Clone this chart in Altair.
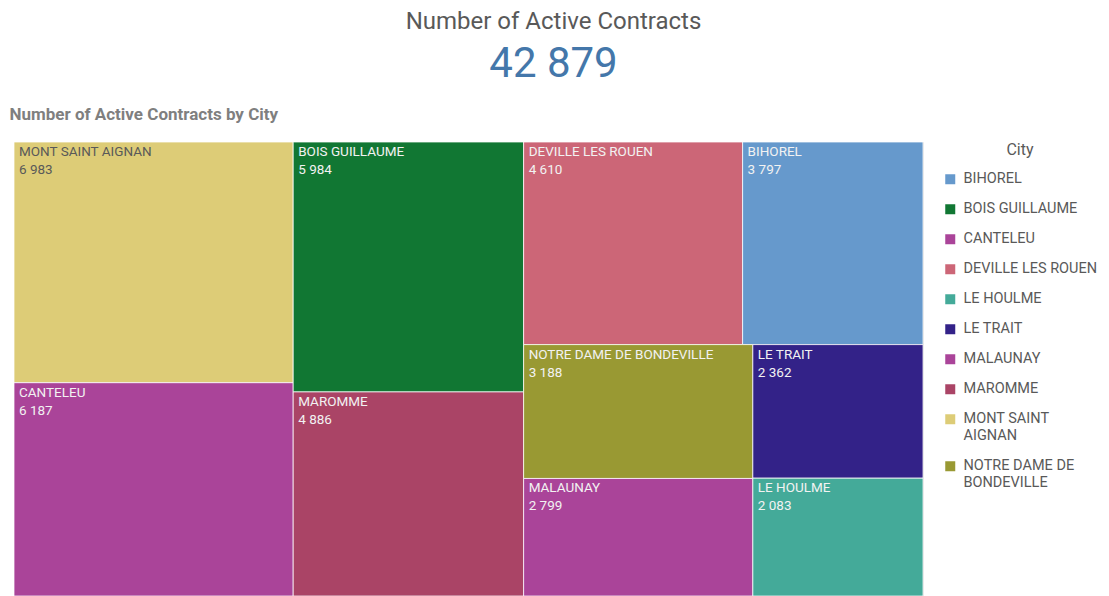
import altair as alt
import pandas as pd

# ---- data ----
cities = ["MONT SAINT AIGNAN", "CANTELEU", "BOIS GUILLAUME", "MAROMME",
          "DEVILLE LES ROUEN", "BIHOREL", "NOTRE DAME DE BONDEVILLE",
          "MALAUNAY", "LE TRAIT", "LE HOULME"]
contracts = [6983, 6187, 5984, 4886, 4610, 3797, 3188, 2799, 2362, 2083]

legend_order = sorted(cities)
legend_colors = ["#6699cc", "#117733", "#aa4499", "#cc6677", "#44aa99",
                 "#332288", "#aa4499", "#aa4466", "#ddcc77", "#999933"]
legend_wrap = {"MONT SAINT AIGNAN": ["MONT SAINT", "AIGNAN"],
               "NOTRE DAME DE BONDEVILLE": ["NOTRE DAME DE", "BONDEVILLE"]}
light_cells = ["MONT SAINT AIGNAN"]

FONT = "Roboto"

# ---- squarified treemap layout (computed from the values) ----
W, H = 909.0, 456.0
total = sum(contracts)
order = sorted(range(len(cities)), key=lambda k: -contracts[k])
areas = [contracts[k] / total * W * H for k in order]


def worst(row, side):
    s = sum(row)
    t = s / side
    return max(max(t / (r / t), (r / t) / t) for r in row)


boxes = []
x0, y0, w, h = 0.0, 0.0, W, H
i, n = 0, len(areas)
while i < n:
    side = min(w, h)
    row = [areas[i]]
    j = i + 1
    while j < n and worst(row + [areas[j]], side) <= worst(row, side):
        row.append(areas[j])
        j += 1
    t = sum(row) / side
    if w >= h:
        yy = y0
        for a in row:
            l = a / t
            boxes.append((x0, yy, x0 + t, yy + l))
            yy += l
        x0 += t
        w -= t
    else:
        xx = x0
        for a in row:
            l = a / t
            boxes.append((xx, y0, xx + l, y0 + t))
            xx += l
        y0 += t
        h -= t
    i = j

df = pd.DataFrame({
    "city": [cities[k] for k in order],
    "contracts": [contracts[k] for k in order],
    "x0": [b[0] for b in boxes],
    "y0": [b[1] for b in boxes],
    "x1": [b[2] for b in boxes],
    "y1": [b[3] for b in boxes],
})
df["value_label"] = df["contracts"].map(lambda v: f"{v:,}".replace(",", " "))

xs = alt.Scale(domain=[0, W], nice=False, zero=False)
ys = alt.Scale(domain=[0, H], nice=False, zero=False, reverse=True)

label_expr = " : ".join(
    [f"datum.label == '{k}' ? {v!r}" for k, v in legend_wrap.items()]
) + " : datum.label"

base = alt.Chart(df)

cells = base.mark_rect(stroke="white", strokeWidth=1, strokeOpacity=0.75).encode(
    x=alt.X("x0:Q", scale=xs, axis=None),
    x2="x1:Q",
    y=alt.Y("y0:Q", scale=ys, axis=None),
    y2="y1:Q",
    color=alt.Color(
        "city:N",
        scale=alt.Scale(domain=legend_order, range=legend_colors),
        legend=alt.Legend(
            title="City", orient="right", offset=18,
            titleFontSize=16, titleFontWeight="normal", titleColor="#595959",
            titleAnchor="middle", titlePadding=14, titleFont=FONT,
            labelFontSize=14.5, labelColor="#595959", labelFont=FONT,
            labelOffset=6, labelLimit=200, labelExpr=label_expr,
            symbolType="square", symbolSize=100, symbolStrokeWidth=0,
            symbolOpacity=1, rowPadding=15,
        ),
    ),
    tooltip=["city:N", "contracts:Q"],
)

txt_color = alt.condition(
    alt.FieldOneOfPredicate(field="city", oneOf=light_cells),
    alt.value("#595959"), alt.value("#f2f2f2"))

names = base.mark_text(align="left", baseline="top", dx=5, dy=3,
                       fontSize=13.5, font=FONT).encode(
    x=alt.X("x0:Q", scale=xs), y=alt.Y("y0:Q", scale=ys),
    text="city:N", color=txt_color)

values = base.mark_text(align="left", baseline="top", dx=5, dy=21,
                        fontSize=13.5, font=FONT).encode(
    x=alt.X("x0:Q", scale=xs), y=alt.Y("y0:Q", scale=ys),
    text="value_label:N", color=txt_color)

treemap = alt.layer(cells, names, values).properties(
    width=909, height=454,
    title=alt.TitleParams(
        "Number of Active Contracts by City", anchor="start", fontSize=17,
        fontWeight="bold", color="#7f7f7f", font=FONT, dx=-4, offset=18),
)

chart = alt.vconcat(treemap).properties(
    title=alt.TitleParams(
        "Number of Active Contracts",
        subtitle=f"{total:,}".replace(",", " "),
        fontSize=24, fontWeight="normal", color="#595959", font=FONT,
        subtitleFontSize=42, subtitleColor="#4477aa", subtitleFont=FONT,
        subtitlePadding=10, anchor="middle", frame="bounds", offset=20),
    padding={"left": 9, "top": 10, "right": 5, "bottom": 0},
).configure_view(stroke=None).configure(font=FONT, background="white")

chart.save("out.html", embed_options={"renderer": "svg", "actions": False})
